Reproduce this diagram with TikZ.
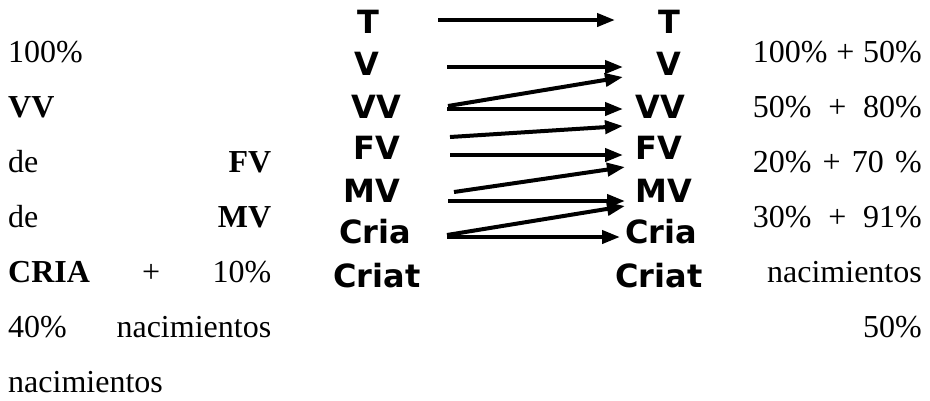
\documentclass[tikz,border=0pt]{standalone}
\usepackage{fontspec}
\setmainfont{Liberation Serif}
\newfontfamily\tagfont{DejaVu Sans}
\usetikzlibrary{arrows.meta,positioning}

\begin{document}
\begin{tikzpicture}[x=1pt,y=-1pt]
\tikzstyle{tag} = [
	font=\tagfont\bfseries\fontsize{32}{32}\selectfont,
	anchor=base, %labels sit on their baseline
	inner sep=0pt
];
\tikzstyle{prose} = [
	font=\fontsize{32}{32}\selectfont,
	inner sep=0pt
];

\useasboundingbox (0,0) rectangle (930,400);

%text on the left
\node[prose, anchor=base west](l1) at (8,62) {100\%};
\node[prose, anchor=base west](l2) at (8,117) {\textbf{VV}};
\node[prose, anchor=base west](l3) at (8,172) {\makebox[263pt][s]{de \textbf{FV}}};
\node[prose, anchor=base west](l4) at (8,227) {\makebox[263pt][s]{de \textbf{MV}}};
\node[prose, anchor=base west](l5) at (8,282) {\makebox[263pt][s]{\textbf{CRIA} + 10\%}};
\node[prose, anchor=base west](l6) at (8,337) {\makebox[263pt][s]{40\% nacimientos}};
\node[prose, anchor=base west](l7) at (8,392) {nacimientos};

%text on the right
\node[prose, anchor=base east](r1) at (922,62) {\makebox[169pt][s]{100\% + 50\%}};
\node[prose, anchor=base east](r2) at (922,117) {\makebox[169pt][s]{50\% + 80\%}};
\node[prose, anchor=base east](r3) at (922,172) {\makebox[169pt][s]{20\% + 70 \%}};
\node[prose, anchor=base east](r4) at (922,227) {\makebox[169pt][s]{30\% + 91\%}};
\node[prose, anchor=base east](r5) at (922,282) {nacimientos};
\node[prose, anchor=base east](r6) at (922,337) {50\%};

%categories before
\node[tag](aT) at (368,33) {T};
\node[tag](aV) at (367,75) {V};
\node[tag](aVV) at (376,118) {VV};
\node[tag](aFV) at (377,159) {FV};
\node[tag](aMV) at (372,202) {MV};
\node[tag](aCria) at (375,243) {Cria};
\node[tag](aCriat) at (377,287) {Criat};

%categories after
\node[tag](bT) at (669,33) {T};
\node[tag](bV) at (669,75) {V};
\node[tag](bVV) at (660,118) {VV};
\node[tag](bFV) at (659,159) {FV};
\node[tag](bMV) at (664,202) {MV};
\node[tag](bCria) at (661,243) {Cria};
\node[tag](bCriat) at (659,287) {Criat};

%arrow ends
\coordinate (aTh) at (438,20);   \coordinate (bTh) at (615,20);
\coordinate (aVh) at (447,67);   \coordinate (bVh) at (623,67);
\coordinate (aVVh) at (447,109); \coordinate (bVVh) at (623,109);
\coordinate (aFVh) at (450,155); \coordinate (bFVh) at (623,155);
\coordinate (aMVh) at (448,201); \coordinate (bMVh) at (625,201);
\coordinate (aCriah) at (447,237); \coordinate (bCriah) at (620,237);
\coordinate (aVVd) at (448,106); \coordinate (bVd) at (623,77);
\coordinate (aFVd) at (450,137); \coordinate (bVVd) at (623,126);
\coordinate (aMVd) at (454,192); \coordinate (bFVd) at (625,167);
\coordinate (aCriad) at (447,235); \coordinate (bMVd) at (625,206);

%staying in the same category
\path[-{Triangle[length=18pt,width=13pt]}, line width=4pt, color=black]
	(aTh) edge[] (bTh)
	(aVh) edge[] (bVh)
	(aVVh) edge[] (bVVh)
	(aFVh) edge[] (bFVh)
	(aMVh) edge[] (bMVh)
	(aCriah) edge[] (bCriah)
;

%moving up one category
\path[-{Triangle[length=18pt,width=13pt]}, line width=4pt, color=black]
	(aVVd) edge[] (bVd)
	(aFVd) edge[] (bVVd)
	(aMVd) edge[] (bFVd)
	(aCriad) edge[] (bMVd)
;

\end{tikzpicture}
\end{document}
